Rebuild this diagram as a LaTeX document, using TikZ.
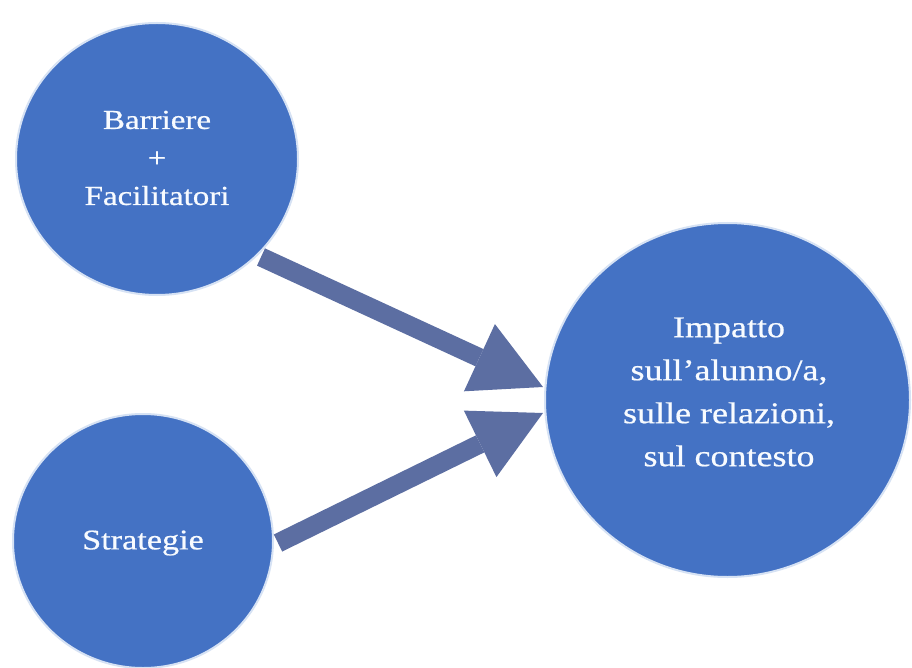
\documentclass[tikz,border=0pt]{standalone}
\usepackage{fontspec}
\usetikzlibrary{arrows.meta,shapes.geometric}
\newfontfamily\labelfont[FakeStretch=1.2,FakeBold=0.6]{Liberation Serif}
\definecolor{discfill}{RGB}{68,114,196}
\definecolor{discedge}{RGB}{214,226,244}
\definecolor{flowarrow}{RGB}{92,110,162}
\definecolor{labeltext}{RGB}{248,251,255}
\tikzset{
  disc/.style={ellipse, fill=discfill, draw=discedge, line width=2pt, inner sep=0pt},
  disclabel/.style={align=center, text=labeltext, inner sep=0pt},
  blockarrow/.style={draw=flowarrow, line width=19pt,
    -{Triangle[length=70pt, width=74pt, line width=0pt, fill=flowarrow]}}
}
\begin{document}
\begin{tikzpicture}[x=1pt, y=-1pt]
  \useasboundingbox (0,0) rectangle (912,668);
  \fill[white] (0,0) rectangle (912,668);

  % the three discs
  \node[disc, minimum width=282pt, minimum height=272pt] (barr) at (157,159) {};
  \node[disc, minimum width=260pt, minimum height=254pt] (strat) at (143,541) {};
  \node[disc, minimum width=365pt, minimum height=354pt] (imp) at (727.5,400) {};

  % labels
  \node[disclabel, font=\labelfont\fontsize{27.5}{38}\selectfont] (barrtxt) at (157,158)
    {Barriere\\+\\Facilitatori};
  \node[disclabel, font=\labelfont\fontsize{28.5}{38}\selectfont] (strattxt) at (143,543)
    {Strategie};
  \node[disclabel, font=\labelfont\fontsize{30}{43}\selectfont] (imptxt) at (729,392)
    {Impatto\\sull’alunno/a,\\sulle relazioni,\\sul contesto};

  % arrow anchors
  \coordinate (a1s) at (261,257);
  \coordinate (a1e) at (543,387);
  \coordinate (a2s) at (278,543);
  \coordinate (a2e) at (543,413);

  \draw[blockarrow] (a1s) -- (a1e);
  \draw[blockarrow] (a2s) -- (a2e);
\end{tikzpicture}
\end{document}
